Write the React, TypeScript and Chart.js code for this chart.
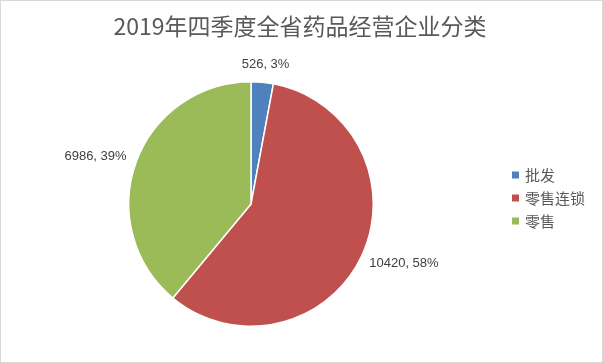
import React, { useEffect, useRef } from "react";
import { Chart, registerables } from "chart.js";

Chart.register(...registerables);

const titleText = "2019年四季度全省药品经营企业分类";
const categories = ["批发", "零售连锁", "零售"];
const values = [526, 10420, 6986];
const percentLabels = ["3%", "58%", "39%"];
const colors = ["#4F81BD", "#C0504D", "#9BBB59"];

const W = 603;
const H = 363;

const overlayPlugin = {
  id: "overlay",
  afterDraw(chart: any) {
    const ctx = chart.ctx as CanvasRenderingContext2D;
    ctx.save();
    // border
    ctx.strokeStyle = "#d9d9d9";
    ctx.lineWidth = 1;
    ctx.strokeRect(0.5, 0.5, W - 1, H - 1);

    // title
    ctx.fillStyle = "#595959";
    ctx.font = '23px "Noto Sans CJK SC", sans-serif';
    ctx.textAlign = "center";
    ctx.textBaseline = "middle";
    ctx.fillText(titleText, 300, 26);

    // data labels
    const meta = chart.getDatasetMeta(0);
    ctx.font = '13px "Liberation Sans", sans-serif';
    ctx.fillStyle = "#404040";
    meta.data.forEach((arc: any, i: number) => {
      const mid = (arc.startAngle + arc.endAngle) / 2;
      const dx = Math.cos(mid);
      const dy = Math.sin(mid);
      const r = arc.outerRadius + 12;
      const text = `${chart.data.datasets[0].data[i]}, ${percentLabels[i]}`;
      const w = ctx.measureText(text).width;
      const h = 12;
      const cx = arc.x + r * dx + (w / 2) * dx;
      const cy = arc.y + r * dy + (h / 2) * dy;
      ctx.fillText(text, cx, cy);
    });

    // legend
    ctx.font = '15px "Noto Sans CJK SC", sans-serif';
    ctx.textAlign = "left";
    const labels = chart.data.labels as string[];
    labels.forEach((lab, i) => {
      const y = 175 + i * 23;
      ctx.fillStyle = colors[i];
      ctx.fillRect(512, y - 3.5, 7, 7);
      ctx.fillStyle = "#595959";
      ctx.fillText(lab, 525, y);
    });
    ctx.restore();
  },
};

export default function App() {
  const ref = useRef<HTMLCanvasElement>(null);
  useEffect(() => {
    document.body.style.margin = "0";
    const chart = new Chart(ref.current!, {
      type: "pie",
      data: {
        labels: categories,
        datasets: [
          {
            data: values,
            backgroundColor: colors,
            borderColor: "#ffffff",
            borderWidth: 1.5,
          },
        ],
      },
      options: {
        responsive: false,
        animation: false,
        layout: { padding: { left: 128, right: 229, top: 81, bottom: 36 } },
        plugins: {
          legend: { display: false },
          title: { display: false },
          tooltip: { enabled: false },
        },
      },
      plugins: [overlayPlugin],
    });
    return () => chart.destroy();
  }, []);
  return (
    <div style={{ width: W, height: H, background: "#fff" }}>
      <canvas ref={ref} width={W} height={H} />
    </div>
  );
}
